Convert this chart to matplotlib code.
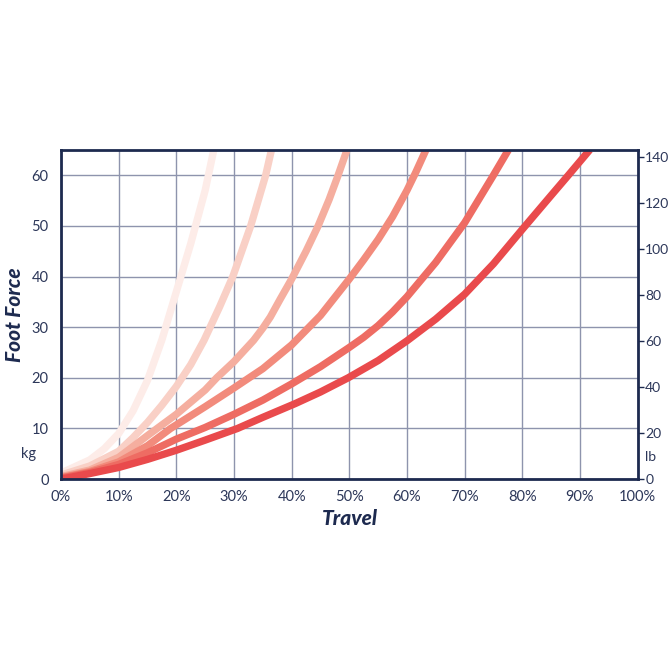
import matplotlib.pyplot as plt

# travel (%) and foot force (kg) for each curve, light -> dark
travel_1 = [0, 5, 7.5, 10, 12.5, 15, 17.5, 20, 22.5, 25, 26.5]
force_1 = [1.2, 3.8, 6.0, 9.0, 13.5, 19.5, 27.5, 37, 46.5, 57, 65]

travel_2 = [0, 5, 10, 12.5, 15, 17.5, 20, 22.5, 24.8, 27.5, 29.8, 32.9, 35.5, 36.5]
force_2 = [0.8, 2.6, 5.5, 8.2, 11.2, 14.6, 18.3, 22.6, 27.4, 34, 40, 50, 60, 65]

travel_3 = [0, 5, 10, 15, 20, 25, 27, 30, 33.4, 35, 36.3, 38, 40, 42.5, 44.6, 46.5, 48, 49.6]
force_3 = [0.5, 1.8, 4.3, 8.6, 12.8, 17.6, 20, 23.2, 27.4, 29.8, 32, 35.5, 39.5, 45, 50, 55.2, 59.8, 65]

travel_4 = [0, 5, 10, 15, 19, 25, 30, 35, 40, 45, 50, 52.5, 55, 57.5, 60, 61.5, 63.3]
force_4 = [0.3, 1.5, 3.4, 6.6, 10, 14.3, 18.0, 21.8, 26.5, 32.3, 39.5, 43.3, 47.3, 51.8, 57, 60.5, 65]

travel_5 = [0, 5, 10, 15, 20, 25, 30, 35, 40, 45, 50, 52.5, 55, 57.5, 60, 65, 70, 75, 77.6]
force_5 = [0.2, 1.3, 2.9, 5.2, 7.9, 10.2, 12.8, 15.6, 18.8, 22.2, 26, 28, 30.3, 33, 36, 42.8, 50.6, 60, 65]

travel_6 = [0, 5, 10, 15, 20, 25, 30.6, 35, 40.6, 45, 49.8, 55, 60, 65, 70, 75, 80, 85, 88, 91.7]
force_6 = [0, 1.1, 2.3, 3.9, 5.7, 7.7, 10, 12.2, 14.9, 17.2, 20, 23.4, 27.3, 31.6, 36.5, 42.5, 49.3, 56, 60, 65]

curvas = [(travel_1, force_1), (travel_2, force_2), (travel_3, force_3),
          (travel_4, force_4), (travel_5, force_5), (travel_6, force_6)]
colores = ["#fdece8", "#f9d0c6", "#f5ae9f", "#f28b7c", "#ee6c63", "#e94a4c"]

kg_ticks = [0, 10, 20, 30, 40, 50, 60]
lb_ticks = [0, 20, 40, 60, 80, 100, 120, 140]
x_ticks = list(range(0, 101, 10))

navy = "#1d2a4f"
texto = "#2c3759"

plt.rcParams['font.family'] = ['Lato', 'DejaVu Sans']

fig = plt.figure(figsize=(6.72, 6.72), dpi=100)
ax = fig.add_axes([0.0908, 0.287, 0.858, 0.490])

for (xs, ys), c in zip(curvas, colores):
    ax.plot(xs, ys, color=c, lw=5.3, solid_capstyle="butt",
            solid_joinstyle="round", zorder=3)

ax.set_xlim(0, 100)
ax.set_ylim(0, 65)
ax.set_xticks(x_ticks)
ax.set_xticklabels([str(t) + "%" for t in x_ticks])
ax.set_yticks(kg_ticks)
ax.grid(True, color="#8e94ad", lw=1.0, zorder=1)
ax.tick_params(length=0, labelsize=10.5, labelcolor=texto)
ax.tick_params(axis="x", pad=8)
ax.tick_params(axis="y", pad=9)
for s in ax.spines.values():
    s.set_color(navy)
    s.set_linewidth(2)
    s.set_zorder(5)

ax2 = ax.twinx()
ax2.set_ylim(0, 65 * 2.20462)
ax2.set_yticks(lb_ticks)
ax2.tick_params(length=4, width=1, color=navy, labelsize=10, labelcolor=texto, pad=1.5)
for s in ax2.spines.values():
    s.set_visible(False)

ax.text(-0.043, 0.075, "kg", transform=ax.transAxes, ha="right", va="center",
        fontsize=10.5, color=texto)
ax.text(1.013, 0.066, "lb", transform=ax.transAxes, ha="left", va="center",
        fontsize=10, color=texto)

fig.text(0.520, 0.229, "Travel", ha="center", va="center", fontsize=15,
         fontweight=900, fontstyle="italic", color=navy)
fig.text(0.022, 0.531, "Foot Force", ha="center", va="center", rotation=90,
         fontsize=15, fontweight=900, fontstyle="italic", color=navy)

fig.savefig("out.png", dpi=100)
